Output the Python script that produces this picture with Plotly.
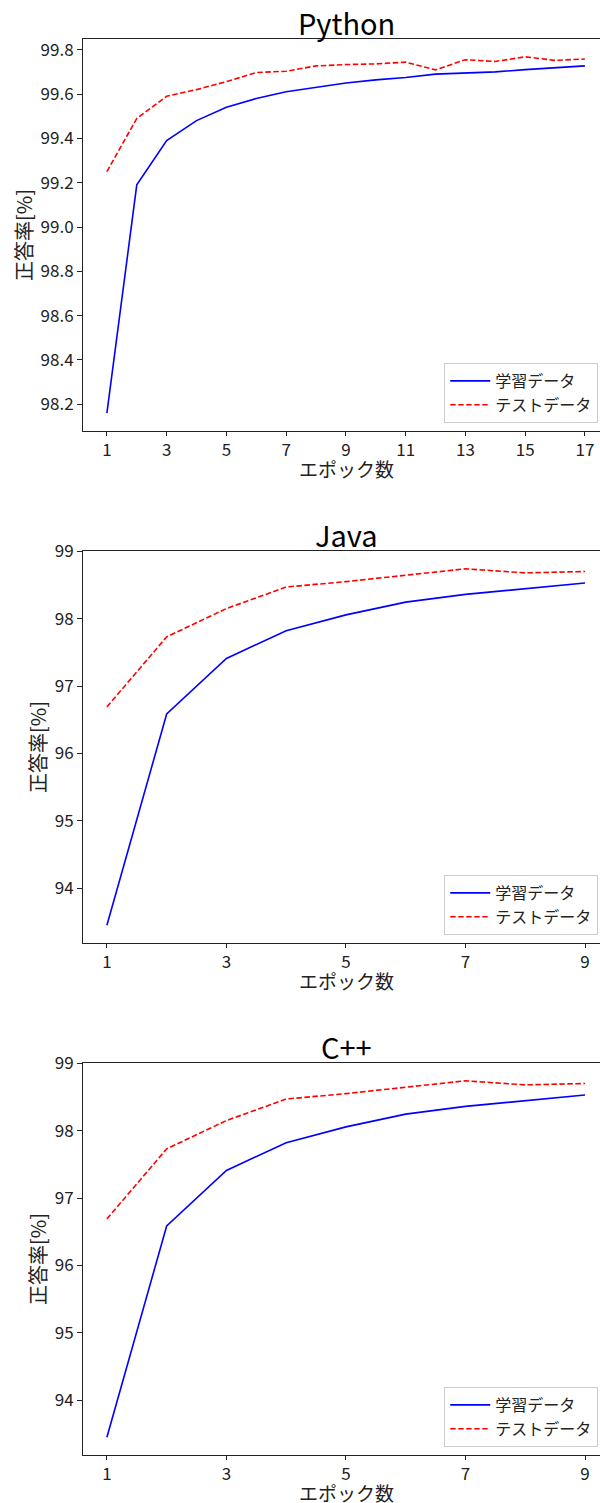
import plotly.graph_objects as go

# Accuracy per epoch (%) for each language model
python_epochs = list(range(1, 18))
python_train = [98.16, 99.19, 99.39, 99.48, 99.54, 99.58, 99.61, 99.63, 99.65,
                99.664, 99.675, 99.69, 99.694, 99.70, 99.71, 99.72, 99.727]
python_test = [99.25, 99.49, 99.59, 99.62, 99.656, 99.697, 99.703, 99.727, 99.733,
               99.736, 99.744, 99.709, 99.755, 99.747, 99.768, 99.752, 99.758]

java_epochs = list(range(1, 10))
java_train = [93.45, 96.585, 97.41, 97.82, 98.056, 98.245, 98.36, 98.45, 98.53]
java_test = [96.69, 97.73, 98.15, 98.47, 98.55, 98.65, 98.74, 98.68, 98.70]

cpp_epochs = list(range(1, 10))
cpp_train = [93.45, 96.585, 97.41, 97.82, 98.056, 98.245, 98.36, 98.45, 98.53]
cpp_test = [96.69, 97.73, 98.15, 98.47, 98.55, 98.65, 98.74, 98.68, 98.70]

titles = ["Python", "Java", "C++"]
train_label = "学習データ"
test_label = "テストデータ"
x_title = "エポック数"
y_title = "正答率[%]"

W, H = 600, 1503
FONT = "Noto Sans CJK JP"
LEFT = 83          # left edge of each plot area (px)
TOP = [39, 551, 1063]
PLOT_H = 392

panels = [
    (python_epochs, python_train, python_test, 0.2, 17.505, 0.2, 2),
    (java_epochs, java_train, java_test, 0.6, 9.251, 1.0, 2),
    (cpp_epochs, cpp_train, cpp_test, 0.6, 9.251, 1.0, 2),
]

fig = go.Figure()
layout = dict(
    width=W, height=H,
    margin=dict(l=0, r=0, t=0, b=0, autoexpand=False),
    paper_bgcolor="white", plot_bgcolor="white",
    font=dict(family=FONT, size=17, color="#222"),
    annotations=[],
)

for i, (ep, tr, te, x0, x1, ydt, xdt) in enumerate(panels):
    n = "" if i == 0 else str(i + 1)
    xa, ya = "x" + n, "y" + n
    leg = "legend" + n
    fig.add_trace(go.Scatter(x=ep, y=tr, mode="lines", name=train_label,
                             line=dict(color="blue", width=1.6),
                             xaxis=xa, yaxis=ya, legend=leg))
    fig.add_trace(go.Scatter(x=ep, y=te, mode="lines", name=test_label,
                             line=dict(color="red", width=1.6, dash="5.5px,2.5px"),
                             xaxis=xa, yaxis=ya, legend=leg))

    top, bot = TOP[i], TOP[i] + PLOT_H
    ydom = [1 - bot / H, 1 - top / H]
    lo, hi = min(tr + te), max(tr + te)
    pad = (hi - lo) * 0.05

    layout["xaxis" + n] = dict(
        domain=[LEFT / W, 1], anchor=ya, range=[x0, x1], automargin=False,
        tickmode="linear", tick0=1, dtick=xdt,
        showline=True, mirror=True, linecolor="#222", linewidth=1,
        ticks="outside", ticklen=4, tickcolor="#222",
        showgrid=False, zeroline=False,
        tickfont=dict(size=17),
    )
    layout["yaxis" + n] = dict(
        domain=ydom, anchor=xa, range=[lo - pad, hi + pad], automargin=False,
        tickmode="linear", tick0=0, dtick=ydt,
        tickformat=".1f" if ydt < 1 else "d",
        showline=True, linecolor="#222", linewidth=1,
        ticks="outside", ticklen=5, tickcolor="#222",
        showgrid=False, zeroline=False,
        tickfont=dict(size=17),
        title=dict(text=y_title, font=dict(size=20), standoff=2),
    )
    layout[leg] = dict(
        x=0.997, xanchor="right", y=1 - (bot - 8) / H, yanchor="bottom",
        bgcolor="rgba(255,255,255,0.8)", bordercolor="#cccccc", borderwidth=1,
        font=dict(size=16), tracegroupgap=0, itemwidth=40,
    )
    layout["annotations"].append(dict(
        text=titles[i], x=346 / W, y=1 - (top - 17) / H, xref="paper", yref="paper",
        xanchor="center", yanchor="middle", showarrow=False,
        font=dict(size=29, color="black")))
    layout["annotations"].append(dict(
        text=x_title, x=346 / W, y=1 - (bot + 37) / H, xref="paper", yref="paper",
        xanchor="center", yanchor="middle", showarrow=False,
        font=dict(size=19, color="#222")))

fig.update_layout(**layout)
fig.write_html("out.html")
